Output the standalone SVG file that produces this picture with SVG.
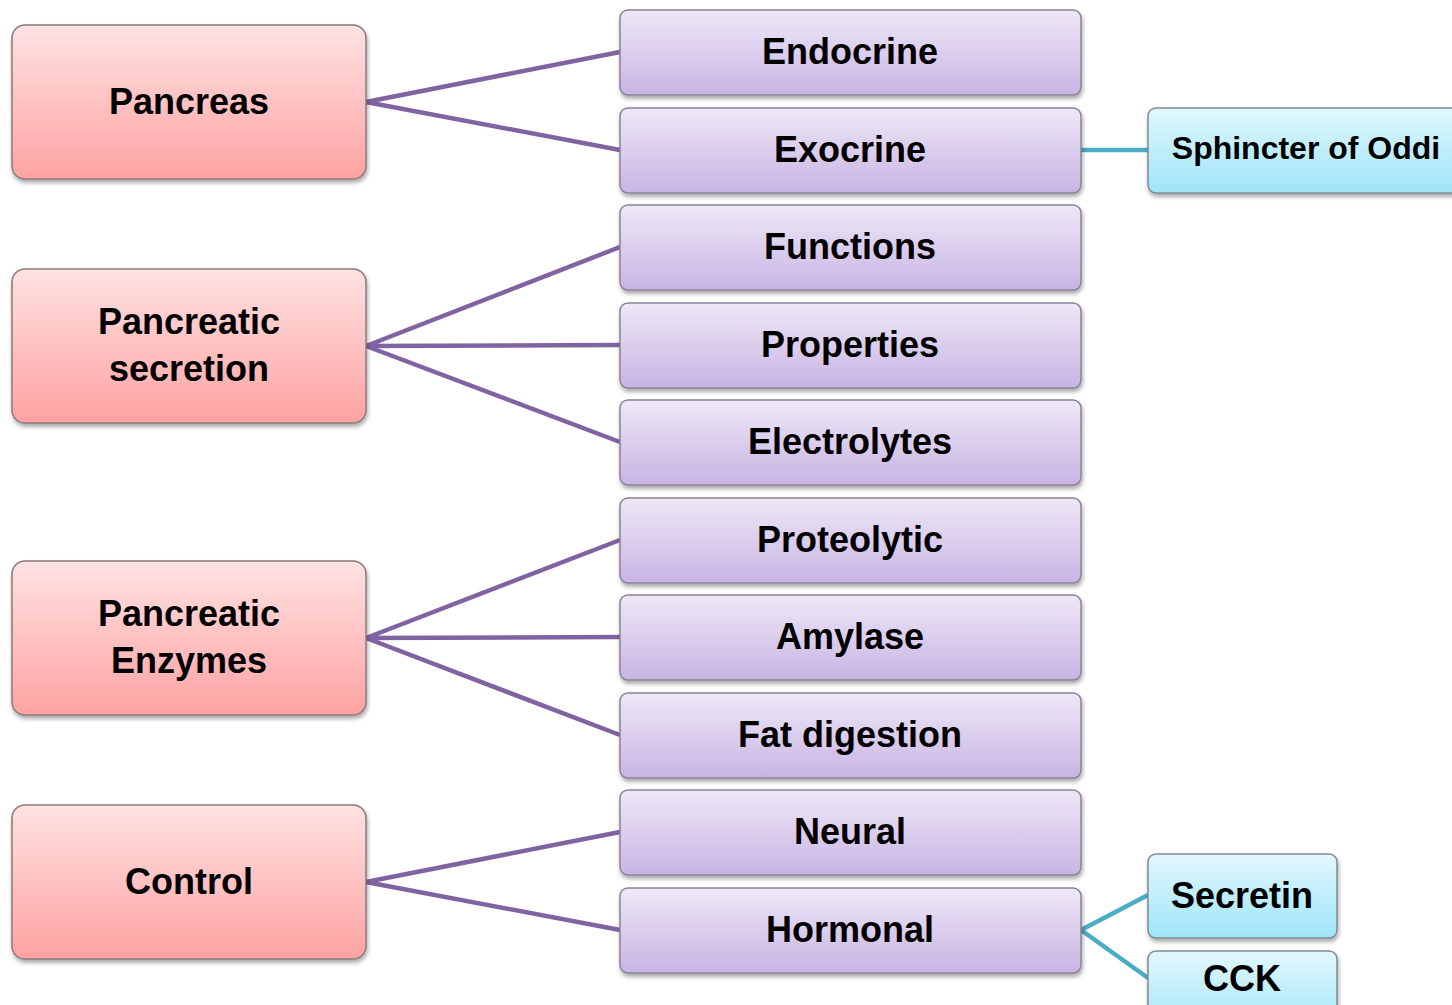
<svg xmlns="http://www.w3.org/2000/svg" width="1452" height="1005" viewBox="0 0 1452 1005">
<style>
text{font-family:"Liberation Sans",Arial,sans-serif;font-weight:bold;fill:#000;text-anchor:middle;dominant-baseline:central}
.l{font-size:36px}
.m{font-size:36px}
.s{font-size:32px}
.pink{fill:url(#gPink);stroke:#8c7b7b;stroke-width:1.5;filter:url(#sh)}
.purple{fill:url(#gPurple);stroke:#8a8296;stroke-width:1.5;filter:url(#sh)}
.blue{fill:url(#gBlue);stroke:#7f8c90;stroke-width:1.5;filter:url(#sh)}
.cp{stroke:#8064A2;stroke-width:4.5;fill:none}
.cb{stroke:#4BACC6;stroke-width:4.5;fill:none}
</style>
<defs>
<linearGradient id="gPink" x1="0" y1="0" x2="0" y2="1"><stop offset="0" stop-color="#FFE2E2"/><stop offset="1" stop-color="#FFA2A2"/></linearGradient>
<linearGradient id="gPurple" x1="0" y1="0" x2="0" y2="1"><stop offset="0" stop-color="#EEE8F7"/><stop offset="1" stop-color="#C8B4E3"/></linearGradient>
<linearGradient id="gBlue" x1="0" y1="0" x2="0" y2="1"><stop offset="0" stop-color="#E0F7FD"/><stop offset="1" stop-color="#9FE5F9"/></linearGradient>
<filter id="sh" x="-10%" y="-10%" width="120%" height="130%"><feDropShadow dx="1" dy="3" stdDeviation="2" flood-color="#000" flood-opacity="0.35"/></filter>
</defs>
<g id="connectors">
<path class="cp" d="M366 102 L620 52 M366 102 L620 150"/>
<path class="cp" d="M366 346 L620 247 M366 346 L620 345 M366 346 L620 442"/>
<path class="cp" d="M366 638 L620 540 M366 638 L620 637 M366 638 L620 735"/>
<path class="cp" d="M366 882 L620 832 M366 882 L620 930"/>
<path class="cb" d="M1081 150 L1148 150"/>
<path class="cb" d="M1081 930 L1148 895 M1081 930 L1148 978"/>
</g>
<g id="pancreas"><rect class="pink" x="12" y="25" width="354" height="154" rx="13"/><text class="l" x="189" y="101">Pancreas</text></g>
<g id="pancreatic-secretion"><rect class="pink" x="12" y="269" width="354" height="154" rx="13"/><text class="l" x="189" y="321">Pancreatic</text><text class="l" x="189" y="368">secretion</text></g>
<g id="pancreatic-enzymes"><rect class="pink" x="12" y="561" width="354" height="154" rx="13"/><text class="l" x="189" y="613">Pancreatic</text><text class="l" x="189" y="660">Enzymes</text></g>
<g id="control"><rect class="pink" x="12" y="805" width="354" height="154" rx="13"/><text class="l" x="189" y="881">Control</text></g>
<g id="endocrine"><rect class="purple" x="620" y="10" width="461" height="85" rx="8"/><text class="m" x="850" y="51">Endocrine</text></g>
<g id="exocrine"><rect class="purple" x="620" y="108" width="461" height="85" rx="8"/><text class="m" x="850" y="149">Exocrine</text></g>
<g id="functions"><rect class="purple" x="620" y="205" width="461" height="85" rx="8"/><text class="m" x="850" y="246">Functions</text></g>
<g id="properties"><rect class="purple" x="620" y="303" width="461" height="85" rx="8"/><text class="m" x="850" y="344">Properties</text></g>
<g id="electrolytes"><rect class="purple" x="620" y="400" width="461" height="85" rx="8"/><text class="m" x="850" y="441">Electrolytes</text></g>
<g id="proteolytic"><rect class="purple" x="620" y="498" width="461" height="85" rx="8"/><text class="m" x="850" y="539">Proteolytic</text></g>
<g id="amylase"><rect class="purple" x="620" y="595" width="461" height="85" rx="8"/><text class="m" x="850" y="636">Amylase</text></g>
<g id="fat-digestion"><rect class="purple" x="620" y="693" width="461" height="85" rx="8"/><text class="m" x="850" y="734">Fat digestion</text></g>
<g id="neural"><rect class="purple" x="620" y="790" width="461" height="85" rx="8"/><text class="m" x="850" y="831">Neural</text></g>
<g id="hormonal"><rect class="purple" x="620" y="888" width="461" height="85" rx="8"/><text class="m" x="850" y="929">Hormonal</text></g>
<g id="sphincter-of-oddi"><rect class="blue" x="1148" y="108" width="320" height="85" rx="8"/><text class="s" x="1306" y="148">Sphincter of Oddi</text></g>
<g id="secretin"><rect class="blue" x="1148" y="854" width="189" height="84" rx="8"/><text class="m" x="1242" y="895">Secretin</text></g>
<g id="cck"><rect class="blue" x="1148" y="951" width="189" height="85" rx="8"/><text class="m" x="1242" y="978">CCK</text></g>
</svg>
